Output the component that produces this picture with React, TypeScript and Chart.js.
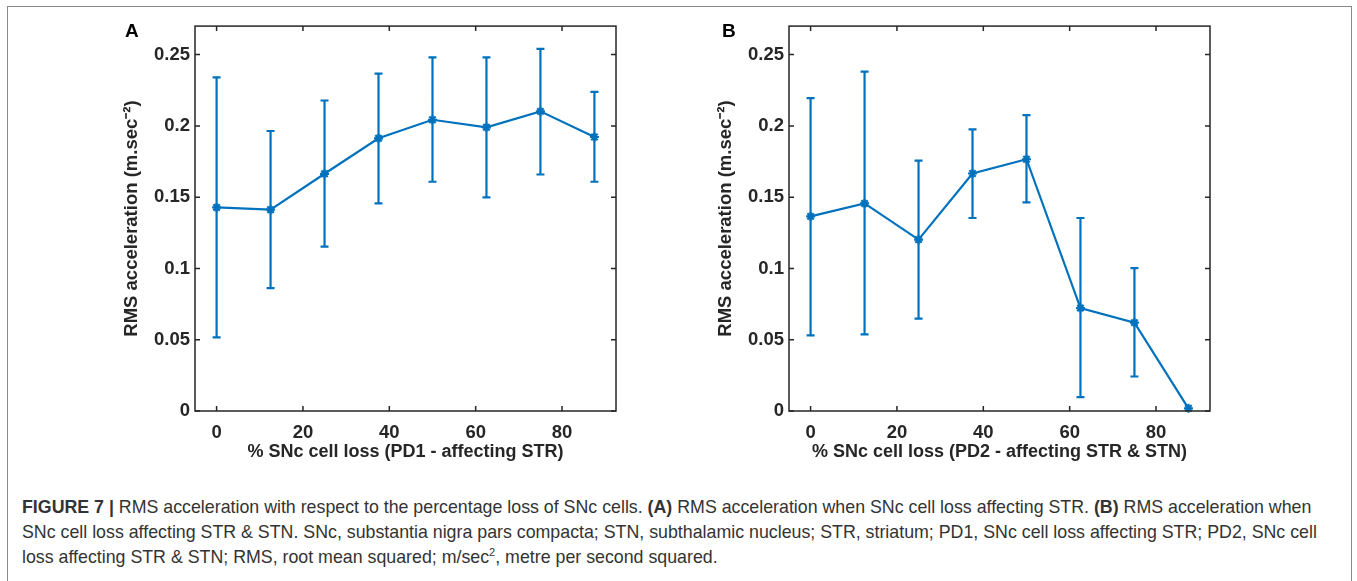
import React, { useEffect, useRef } from "react";
import { Chart, registerables } from "chart.js";
Chart.register(...registerables);

// ---- data ----
const cellLoss = [0, 12.5, 25, 37.5, 50, 62.5, 75, 87.5];

const meanA = [0.1428, 0.1412, 0.1664, 0.1913, 0.2043, 0.199, 0.2102, 0.1922];
const upperA = [0.234, 0.1964, 0.2178, 0.2367, 0.2481, 0.2481, 0.254, 0.2239];
const lowerA = [0.0517, 0.0862, 0.1153, 0.1456, 0.1608, 0.1498, 0.1659, 0.1608];

const meanB = [0.1365, 0.1456, 0.1202, 0.1666, 0.1766, 0.0722, 0.062, 0.0019];
const upperB = [0.2195, 0.2381, 0.1757, 0.1976, 0.2076, 0.1354, 0.1002, 0.0019];
const lowerB = [0.0531, 0.0538, 0.0648, 0.1354, 0.1463, 0.0098, 0.0242, 0.0019];

const xTickValues = [0, 20, 40, 60, 80];
const yTickValues = [0, 0.05, 0.1, 0.15, 0.2, 0.25];
const yTickLabels = ["0", "0.05", "0.1", "0.15", "0.2", "0.25"];

const xTitleA = "% SNc cell loss (PD1 - affecting STR)";
const xTitleB = "% SNc cell loss (PD2 - affecting STR & STN)";
const yTitle = "RMS acceleration (m.sec\u207B\u00B2)";

const BLUE = "#0072BD";
const AXIS = "#262626";
const FONT = "'Liberation Sans', Arial, Helvetica, sans-serif";

const boxPlugin = {
  id: "boxTicks",
  afterDatasetsDraw(chart: any) {
    const { ctx, chartArea: a, scales } = chart;
    const x = scales.x;
    const y = scales.y;
    ctx.save();
    ctx.strokeStyle = AXIS;
    ctx.lineWidth = 1.5;
    ctx.strokeRect(a.left, a.top, a.right - a.left, a.bottom - a.top);
    const tl = 5;
    ctx.beginPath();
    xTickValues.forEach((v) => {
      const px = x.getPixelForValue(v);
      ctx.moveTo(px, a.bottom);
      ctx.lineTo(px, a.bottom - tl);
      ctx.moveTo(px, a.top);
      ctx.lineTo(px, a.top + tl);
    });
    yTickValues.forEach((v) => {
      const py = y.getPixelForValue(v);
      ctx.moveTo(a.left, py);
      ctx.lineTo(a.left + tl, py);
      ctx.moveTo(a.right, py);
      ctx.lineTo(a.right - tl, py);
    });
    ctx.stroke();
    ctx.restore();
  },
};

const errorBarPlugin = {
  id: "errorBars",
  beforeDatasetsDraw(chart: any, _args: any, opts: any) {
    const { ctx, scales } = chart;
    const up: number[] = opts.upper;
    const lo: number[] = opts.lower;
    ctx.save();
    ctx.strokeStyle = BLUE;
    ctx.lineWidth = 2.2;
    const cap = 4;
    ctx.beginPath();
    cellLoss.forEach((v, i) => {
      if (up[i] === lo[i]) return;
      const px = scales.x.getPixelForValue(v);
      const pu = scales.y.getPixelForValue(up[i]);
      const pl = scales.y.getPixelForValue(lo[i]);
      ctx.moveTo(px, pu);
      ctx.lineTo(px, pl);
      ctx.moveTo(px - cap, pu);
      ctx.lineTo(px + cap, pu);
      ctx.moveTo(px - cap, pl);
      ctx.lineTo(px + cap, pl);
    });
    ctx.stroke();
    ctx.restore();
  },
};

type PanelProps = {
  left: number;
  mean: number[];
  upper: number[];
  lower: number[];
  xTitle: string;
  yAxisWidth: number;
  yTitlePad: number;
  rightPad: number;
};

function Panel(p: PanelProps) {
  const ref = useRef<HTMLCanvasElement>(null);
  useEffect(() => {
    const chart = new Chart(ref.current as HTMLCanvasElement, {
      type: "line",
      data: {
        datasets: [
          {
            data: cellLoss.map((x, i) => ({ x, y: p.mean[i] })),
            borderColor: BLUE,
            backgroundColor: BLUE,
            borderWidth: 2.2,
            pointStyle: "star",
            pointRadius: 4.5,
            pointBorderWidth: 2.2,
            pointBorderColor: BLUE,
            tension: 0,
            clip: false,
          } as any,
        ],
      },
      options: {
        animation: false,
        responsive: false,
        events: [],
        layout: { padding: { top: 14, right: p.rightPad, left: 0, bottom: 0 } },
        plugins: {
          legend: { display: false },
          tooltip: { enabled: false },
          errorBars: { upper: p.upper, lower: p.lower },
        } as any,
        scales: {
          x: {
            type: "linear",
            min: -5,
            max: 92.5,
            grid: { display: false, drawTicks: false },
            border: { display: false },
            afterBuildTicks: (s: any) => {
              s.ticks = xTickValues.map((value) => ({ value }));
            },
            afterFit: (s: any) => {
              s.height = 59;
            },
            ticks: {
              color: AXIS,
              padding: 11,
              maxRotation: 0,
              font: { family: FONT, size: 18.5, weight: "bold" },
              callback: (v: any) => String(v),
            },
            title: {
              display: true,
              text: p.xTitle,
              color: AXIS,
              padding: { top: 0, bottom: 7 },
              font: { family: FONT, size: 18, weight: "bold" },
            },
          },
          y: {
            type: "linear",
            min: 0,
            max: 0.27,
            grid: { display: false, drawTicks: false },
            border: { display: false },
            afterBuildTicks: (s: any) => {
              s.ticks = yTickValues.map((value) => ({ value }));
            },
            afterFit: (s: any) => {
              s.width = p.yAxisWidth;
            },
            ticks: {
              color: AXIS,
              padding: 5,
              font: { family: FONT, size: 18.5, weight: "bold" },
              callback: (v: any) => {
                const i = yTickValues.indexOf(v);
                return i >= 0 ? yTickLabels[i] : "";
              },
            },
            title: {
              display: true,
              text: yTitle,
              color: AXIS,
              padding: { top: p.yTitlePad, bottom: 0 },
              font: { family: FONT, size: 18.5, weight: "bold" },
            },
          },
        },
      },
      plugins: [boxPlugin, errorBarPlugin],
    });
    return () => chart.destroy();
  }, []);
  return (
    <canvas
      ref={ref}
      width={530}
      height={460}
      style={{ position: "absolute", left: p.left, top: 10, width: 530, height: 460, display: "block" }}
    />
  );
}

export default function App() {
  const label: React.CSSProperties = {
    position: "absolute",
    fontFamily: FONT,
    fontWeight: "bold",
    fontSize: 19,
    color: "#000",
    lineHeight: "20px",
  };
  return (
    <div
      style={{
        position: "absolute",
        left: 0,
        top: 0,
        width: 1357,
        height: 581,
        background: "#fff",
        overflow: "hidden",
      }}
    >
      <div
        style={{
          position: "absolute",
          left: 7,
          top: 6,
          width: 1345,
          height: 600,
          border: "1px solid #8a8a8a",
          boxSizing: "border-box",
        }}
      />
      <Panel left={100} mean={meanA} upper={upperA} lower={lowerA} xTitle={xTitleA} yAxisWidth={95} yTitlePad={21} rightPad={14} />
      <Panel left={700} mean={meanB} upper={upperB} lower={lowerB} xTitle={xTitleB} yAxisWidth={89} yTitlePad={15} rightPad={20} />
      <div style={{ ...label, left: 125, top: 21 }}>A</div>
      <div style={{ ...label, left: 722, top: 21 }}>B</div>
      <div
        style={{
          position: "absolute",
          left: 22,
          top: 495,
          fontFamily: FONT,
          fontSize: 17.8,
          lineHeight: "25px",
          color: "#333",
          whiteSpace: "nowrap",
        }}
      >
        <div>
          <b>FIGURE 7 |</b> RMS acceleration with respect to the percentage loss of SNc cells. <b>(A)</b> RMS
          acceleration when SNc cell loss affecting STR. <b>(B)</b> RMS acceleration when
        </div>
        <div>
          SNc cell loss affecting STR &amp; STN. SNc, substantia nigra pars compacta; STN, subthalamic nucleus; STR,
          striatum; PD1, SNc cell loss affecting STR; PD2, SNc cell
        </div>
        <div>
          loss affecting STR &amp; STN; RMS, root mean squared; m/sec
          <sup style={{ fontSize: 11, lineHeight: 0 }}>2</sup>, metre per second squared.
        </div>
      </div>
    </div>
  );
}
